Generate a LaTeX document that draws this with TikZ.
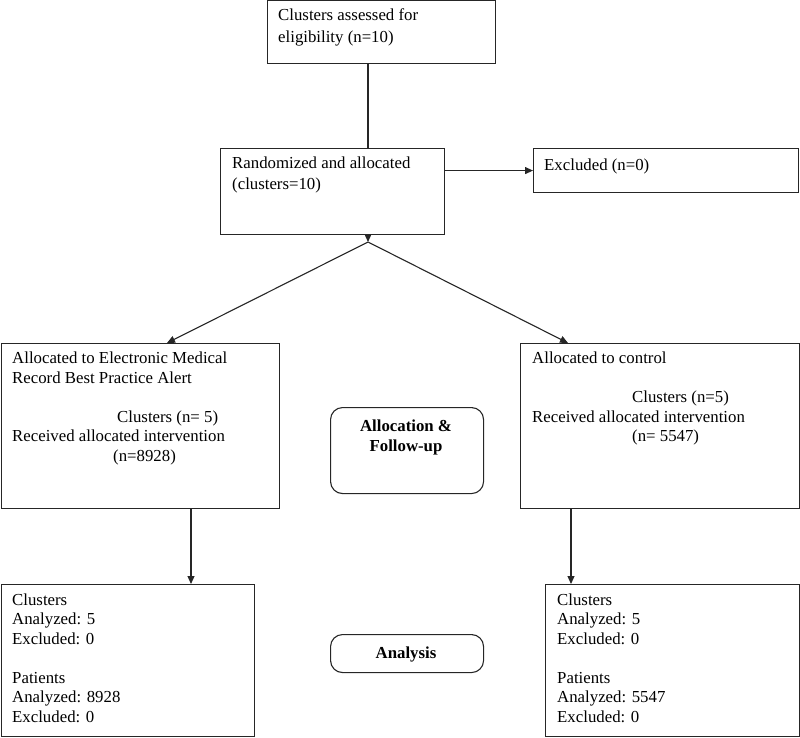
\documentclass[tikz,border=0pt]{standalone}
\usepackage{fontspec}
\setmainfont{Liberation Serif}
\usetikzlibrary{arrows.meta}
\begin{document}
\begin{tikzpicture}[x=1pt,y=-1pt,
  box/.style={draw=black!85,line width=1.1pt,anchor=north west,inner sep=0pt},
  rbox/.style={box,rounded corners=12pt},
  txt/.style={anchor=base west,inner sep=0pt,font=\fontsize{16.8}{20}\selectfont},
  btxt/.style={anchor=base,inner sep=0pt,font=\fontsize{16.8}{20}\selectfont\bfseries},
  conn/.style={draw=black!85,line width=1.1pt},
  arr/.style={conn,-{Triangle[length=8pt,width=7pt]}}]
\useasboundingbox (0,0) rectangle (800,737);
% boxes
\node[box,minimum width=228pt,minimum height=63pt] (top) at (267,0) {};
\node[box,minimum width=224pt,minimum height=86pt] (rand) at (220,148) {};
\node[box,minimum width=265pt,minimum height=44pt] (excl) at (533,148) {};
\node[box,minimum width=278pt,minimum height=165pt] (left) at (1,343) {};
\node[box,minimum width=279pt,minimum height=165pt] (right) at (520,343) {};
\node[rbox,minimum width=153pt,minimum height=86pt] (alloc) at (330,407) {};
\node[box,minimum width=253pt,minimum height=152pt] (lbot) at (1,584) {};
\node[box,minimum width=254pt,minimum height=152pt] (rbot) at (545,584) {};
\node[rbox,minimum width=153pt,minimum height=38pt] (anal) at (330,634) {};
% texts
\node[txt] (t1) at (278,20) {Clusters assessed for};
\node[txt] (t2) at (278,42) {eligibility (n=10)};
\node[txt] (r1) at (232,168) {Randomized and allocated};
\node[txt] (r2) at (232,189) {(clusters=10)};
\node[txt] (e1) at (544,170) {Excluded (n=0)};
\node[txt] (l1) at (12,363) {Allocated to Electronic Medical};
\node[txt] (l2) at (12,383) {Record Best Practice Alert};
\node[txt] (l3) at (117,422) {Clusters (n= 5)};
\node[txt] (l4) at (12,441) {Received allocated intervention};
\node[txt] (l5) at (113,461) {(n=8928)};
\node[txt] (c1) at (532,363) {Allocated to control};
\node[txt] (c2) at (632,402) {Clusters (n=5)};
\node[txt] (c3) at (532,422) {Received allocated intervention};
\node[txt] (c4) at (632,441) {(n= 5547)};
\node[btxt] (a1) at (406,431) {Allocation \&};
\node[btxt] (a2) at (406,451) {Follow-up};
\node[btxt] (an) at (406,658) {Analysis};
\node[txt] (lb1) at (12,605) {Clusters};
\node[txt] (lb2) at (12,624) {Analyzed: 5};
\node[txt] (lb3) at (12,644) {Excluded: 0};
\node[txt] (lb4) at (12,683) {Patients};
\node[txt] (lb5) at (12,702) {Analyzed: 8928};
\node[txt] (lb6) at (12,722) {Excluded: 0};
\node[txt] (rb1) at (557,605) {Clusters};
\node[txt] (rb2) at (557,624) {Analyzed: 5};
\node[txt] (rb3) at (557,644) {Excluded: 0};
\node[txt] (rb4) at (557,683) {Patients};
\node[txt] (rb5) at (557,702) {Analyzed: 5547};
\node[txt] (rb6) at (557,722) {Excluded: 0};
% connectors
\coordinate (split) at (368,242);
\coordinate (ltip) at (167,343);
\coordinate (rtip) at (568,343);
\coordinate (ldown) at (191,508);
\coordinate (rdown) at (571,508);
\draw[conn] (top.south -| split) -- (rand.north -| split);
\draw[arr] (excl.west -| rand.east) -- (excl.west);
\draw[arr] (rand.south -| split) -- (split);
\draw[arr] (split) -- (left.north -| ltip);
\draw[arr] (split) -- (right.north -| rtip);
\draw[arr] (left.south -| ldown) -- (lbot.north -| ldown);
\draw[arr] (right.south -| rdown) -- (rbot.north -| rdown);
\end{tikzpicture}
\end{document}
